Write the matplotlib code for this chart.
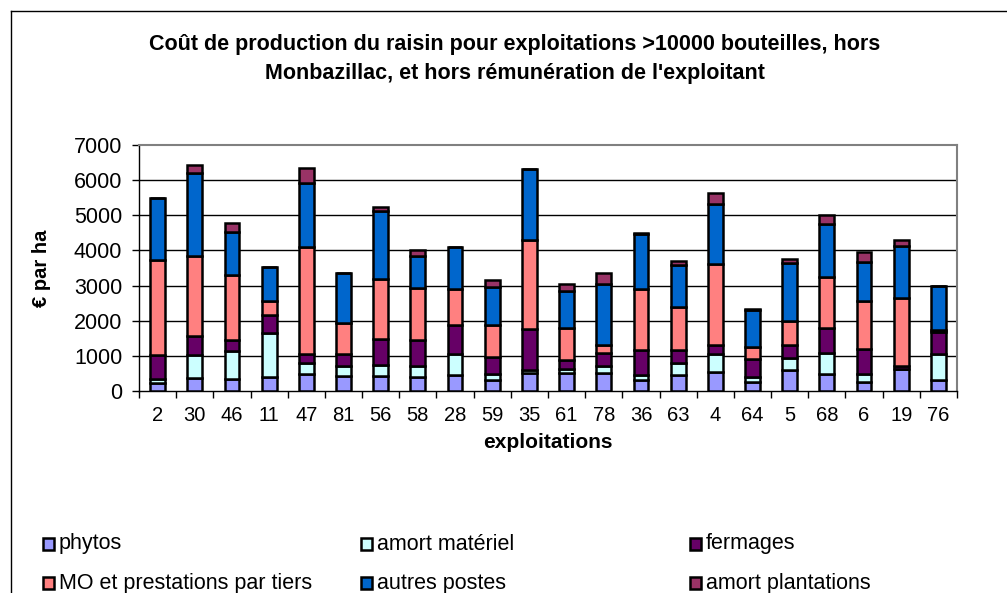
import matplotlib.pyplot as plt
import numpy as np
from matplotlib.patches import Rectangle
from matplotlib.lines import Line2D

plt.rcParams["font.family"] = ["Liberation Sans", "DejaVu Sans"]

exploitations = ["2", "30", "46", "11", "47", "81", "56", "58", "28", "59", "35",
                 "61", "78", "36", "63", "4", "64", "5", "68", "6", "19", "76"]

phytos = [240, 380, 350, 400, 475, 420, 430, 400, 450, 300, 510,
          510, 510, 300, 465, 540, 255, 610, 475, 255, 615, 320]
amort_materiel = [110, 655, 790, 1260, 330, 285, 300, 300, 590, 190, 95,
                  105, 200, 145, 340, 525, 145, 340, 615, 240, 20, 745]
fermages = [670, 520, 300, 495, 260, 340, 760, 740, 850, 490, 1170,
            255, 370, 715, 350, 235, 520, 350, 710, 710, 70, 615]
mo_tiers = [2700, 2280, 1850, 400, 3040, 890, 1710, 1500, 1000, 910, 2515,
            930, 220, 1755, 1235, 2325, 335, 685, 1445, 1360, 1955, 50]
autres_postes = [1760, 2375, 1235, 980, 1805, 1425, 1920, 900, 1215, 1065, 2025,
                 1045, 1740, 1550, 1185, 1690, 1045, 1645, 1500, 1110, 1470, 1265]
amort_plantations = [20, 220, 255, 0, 445, 0, 105, 170, 0, 190, 0,
                     190, 320, 20, 125, 330, 20, 140, 255, 285, 180, 0]

series = [
    ("phytos", phytos, "#9999FF"),
    ("amort matériel", amort_materiel, "#CCFFFF"),
    ("fermages", fermages, "#660066"),
    ("MO et prestations par tiers", mo_tiers, "#FF8080"),
    ("autres postes", autres_postes, "#0066CC"),
    ("amort plantations", amort_plantations, "#993366"),
]

W, H = 1007, 593
fig = plt.figure(figsize=(W / 100, H / 100), dpi=100)
ax = fig.add_axes([139 / W, (H - 391) / H, 818 / W, 246 / H])

x = np.arange(len(exploitations))
bottom = np.zeros(len(exploitations))
for name, vals, color in series:
    vals = np.array(vals, dtype=float)
    ax.bar(x, vals, bottom=bottom, width=0.4, color=color,
           edgecolor="black", linewidth=1.8, zorder=3)
    bottom += vals

ax.set_xlim(-0.5, len(exploitations) - 0.5)
ax.set_ylim(0, 7000)
ax.set_yticks(range(0, 7001, 1000))
ax.set_xticks(x)
ax.set_xticklabels(exploitations)
ax.set_xticks(np.arange(-0.5, len(exploitations), 1.0), minor=True)
ax.tick_params(axis="x", which="major", length=0, labelsize=14.5, pad=11)
ax.tick_params(axis="x", which="minor", length=5, width=1, direction="out")
ax.tick_params(axis="y", length=5, width=1, labelsize=15.5, pad=7)

for yv in range(1000, 7000, 1000):
    ax.axhline(yv, color="black", linewidth=1, zorder=1)

for s in ("top", "right"):
    ax.spines[s].set_color("#808080")
    ax.spines[s].set_linewidth(1.5)
for s in ("left", "bottom"):
    ax.spines[s].set_color("black")
    ax.spines[s].set_linewidth(1)

ax.set_ylabel("€ par ha", fontsize=14.5, fontweight="bold")
ax.set_xlabel("exploitations", fontsize=15, fontweight="bold")
ax.yaxis.set_label_coords((42 - 139) / 818, 0.5)
ax.xaxis.set_label_coords(0.5, -(442 - 391) / 246)
ax.xaxis.label.set_va("center")
ax.yaxis.label.set_va("center")

fig.text(515 / W, 1 - 59 / H,
         "Coût de production du raisin pour exploitations >10000 bouteilles, hors\n"
         "Monbazillac, et hors rémunération de l'exploitant",
         ha="center", va="center", fontsize=15.5, fontweight="bold", linespacing=1.45)

# chart area frame (cropped at right and bottom)
fig.add_artist(Line2D([10.5 / W, 10.5 / W], [0, 1 - 11 / H], color="black",
                      linewidth=1, transform=fig.transFigure))
fig.add_artist(Line2D([10.5 / W, 1], [1 - 11 / H, 1 - 11 / H], color="black",
                      linewidth=1, transform=fig.transFigure))

# legend laid out like the original: 3 columns x 2 rows
cols_x = [43, 361, 690]
rows_y = [544, 583]
for k, (name, _, color) in enumerate(series):
    cx = cols_x[k % 3]
    cy = rows_y[k // 3]
    fig.add_artist(Rectangle((cx / W, 1 - (cy + 6) / H), 11 / W, 12 / H,
                             facecolor=color, edgecolor="black", linewidth=1.8,
                             transform=fig.transFigure))
    fig.text((cx + 16) / W, 1 - cy / H, name, ha="left", va="center", fontsize=15.5)

fig.savefig("out.png", dpi=100, facecolor="white")
